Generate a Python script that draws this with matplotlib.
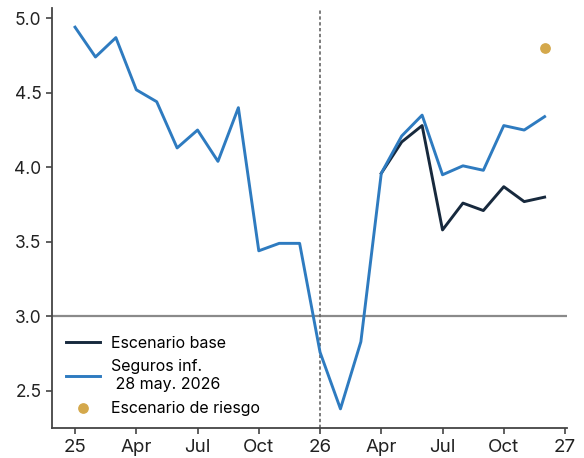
import matplotlib.pyplot as plt

# monthly values, Jan 2025 .. Dec 2026
months = list(range(24))
seguros = [4.94, 4.74, 4.87, 4.52, 4.44, 4.13, 4.25, 4.04, 4.40, 3.44, 3.49, 3.49,
           2.76, 2.38, 2.83, 3.96, 4.21, 4.35, 3.95, 4.01, 3.98, 4.28, 4.25, 4.34]
base_months = list(range(15, 24))
base = [3.96, 4.17, 4.28, 3.58, 3.76, 3.71, 3.87, 3.77, 3.80]
riesgo_month = [23]
riesgo = [4.80]

tick_pos = [0, 3, 6, 9, 12, 15, 18, 21, 24]
tick_labels = ['25', 'Apr', 'Jul', 'Oct', '26', 'Apr', 'Jul', 'Oct', '27']

plt.rcParams['font.family'] = ['Inter', 'DejaVu Sans']

fig = plt.figure(figsize=(5.84, 4.58), dpi=100)
ax = fig.add_axes([0.089, 0.065, 0.882, 0.918])

# reference lines
ax.axhline(3.0, color='#8a8a8a', lw=1.6, zorder=1)
ax.axvline(12, color='#666666', lw=1.2, ls=(0, (2, 1.5)), zorder=1)

ax.plot(base_months, base, color='#17293d', lw=2.1, label='Escenario base', zorder=2)
ax.plot(months, seguros, color='#2e7bc0', lw=2.1, label='Seguros inf.\n 28 may. 2026', zorder=3)
ax.scatter(riesgo_month, riesgo, s=45, color='#d4a84b', label='Escenario de riesgo', zorder=4)

ax.set_xlim(-1.13, 24.1)
ax.set_ylim(2.25, 5.07)
ax.set_xticks(tick_pos)
ax.set_xticklabels(tick_labels)
ax.set_yticks([2.5, 3.0, 3.5, 4.0, 4.5, 5.0])
ax.set_yticklabels(['2.5', '3.0', '3.5', '4.0', '4.5', '5.0'])
ax.tick_params(length=4, width=1.2, color='#444444', labelcolor='#222222')
ax.tick_params(axis='x', labelsize=13.5)
ax.tick_params(axis='y', labelsize=12.5)

for s in ['top', 'right']:
    ax.spines[s].set_visible(False)
for s in ['left', 'bottom']:
    ax.spines[s].set_color('#444444')
    ax.spines[s].set_linewidth(1.3)

ax.legend(loc='lower left', bbox_to_anchor=(0.0, -0.004), frameon=False, fontsize=11.5,
          handlelength=2.1, labelspacing=0.55, handletextpad=0.7)

fig.savefig('out.png', dpi=100)
